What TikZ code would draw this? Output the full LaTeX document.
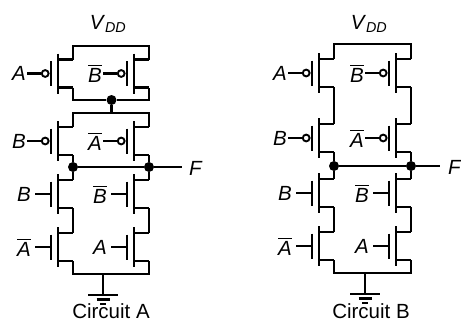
\documentclass[tikz,border=0pt]{standalone}
\usepackage{fontspec}
\setmainfont{Liberation Sans}
\usepackage{amsmath}
\usetikzlibrary{calc}

% transistor symbols: name, x of source/drain line, y of centre, gate label
\newcommand{\pfet}[4]{%
	\draw[wire] ({#2-15},{#3-20}) -- ({#2-15},{#3+20});
	\draw[wire] ({#2-22},{#3-12.5}) -- ({#2-22},{#3+12.5});
	\draw[wire] ({#2-15},{#3-14}) -- ({#2},{#3-14}) coordinate (#1-s);
	\draw[wire] ({#2-15},{#3+14}) -- ({#2},{#3+14}) coordinate (#1-d);
	\coordinate (#1-in) at ({#2-46},#3);
	\node[bubble] (#1-g) at ({#2-27.8},#3) {};
	\node[gatelabel] (#1-l) at (#1-in) {#4};
	\draw[wire] (#1-in) -- (#1-g);
	\draw[wire] (#1-g) -- ({#2-22},#3);
}
\newcommand{\nfet}[4]{%
	\draw[wire] ({#2-15},{#3-20}) -- ({#2-15},{#3+20});
	\draw[wire] ({#2-22},{#3-12.5}) -- ({#2-22},{#3+12.5});
	\draw[wire] ({#2-15},{#3-14}) -- ({#2},{#3-14}) coordinate (#1-s);
	\draw[wire] ({#2-15},{#3+14}) -- ({#2},{#3+14}) coordinate (#1-d);
	\coordinate (#1-in) at ({#2-38},#3);
	\node[gatelabel] (#1-l) at ({#2-41},#3) {#4};
	\draw[wire] (#1-in) -- ({#2-22},#3);
}

\begin{document}
\begin{tikzpicture}[x=1pt, y=-1pt, font=\fontsize{20.5}{24}\selectfont]
	\tikzstyle {wire} = [line width=2.8pt]
	\tikzstyle {bubble} = [shape=circle, draw=black, line width=1.9pt, fill=white, minimum size=6.8pt, inner sep=0pt]
	\tikzstyle {dot} = [shape=circle, fill=black, minimum size=10pt, inner sep=0pt]
	\tikzstyle {gatelabel} = [anchor=east, inner sep=1pt]
	\useasboundingbox (0,0) rectangle (461,322);

	% Circuit A: pull-up
	\pfet{a-p1}{73}{73.5}{\textit{A}}
	\pfet{a-p2}{149}{73.5}{$\overline{\textit{B}}$}
	\pfet{a-p3}{73}{141}{\textit{B}}
	\pfet{a-p4}{149}{141}{$\overline{\textit{A}}$}
	% Circuit A: pull-down
	\nfet{a-n1}{73}{194}{\textit{B}}
	\nfet{a-n2}{73}{247}{$\overline{\textit{A}}$}
	\nfet{a-n3}{149}{194}{$\overline{\textit{B}}$}
	\nfet{a-n4}{149}{247}{\textit{A}}

	\node[] (a-vdd) at (108,24) {\textit{V}\textsubscript{\textit{DD}}};
	\coordinate (a-top-l) at (73,46);
	\coordinate (a-top-r) at (149,46);
	\node[dot] (a-mid) at (111.5,100) {};
	\coordinate (a-mid-b) at (111.5,113);
	\node[dot] (a-f1) at (73,167) {};
	\node[dot] (a-f2) at (149,167) {};
	\coordinate (a-out) at (182,167);
	\node[anchor=west, inner sep=1pt] (a-F) at (188,168) {\textit{F}};
	\coordinate (a-gnd) at (103,274);
	\coordinate (a-earth) at (103,295);
	\node[] (a-name) at (111,311) {Circuit A};

	\draw[wire] (a-p1-s) -- (a-top-l) -- (a-top-r) -- (a-p2-s);
	\draw[wire] (a-p1-d) |- (a-mid) -| (a-p2-d);
	\draw[wire] (a-mid) -- (a-mid-b);
	\draw[wire] (a-p3-s) |- (a-mid-b) -| (a-p4-s);
	\draw[wire] (a-p3-d) -- (a-f1) -- (a-n1-s);
	\draw[wire] (a-p4-d) -- (a-f2) -- (a-n3-s);
	\draw[wire] (a-f1) -- (a-f2) -- (a-out);
	\draw[wire] (a-n1-d) -- (a-n2-s);
	\draw[wire] (a-n3-d) -- (a-n4-s);
	\draw[wire] (a-n2-d) |- (a-gnd) -| (a-n4-d);
	\draw[wire] (a-gnd) -- (a-earth);
	\draw[wire] ([xshift=-15pt]a-earth) -- ([xshift=15pt]a-earth);
	\draw[wire] ([xshift=-6.5pt, yshift=-4.5pt]a-earth) -- ([xshift=6.5pt, yshift=-4.5pt]a-earth);
	\draw[line width=2pt] ([xshift=-3pt, yshift=-8.5pt]a-earth) -- ([xshift=3pt, yshift=-8.5pt]a-earth);

	% Circuit B: pull-up
	\pfet{b-p1}{334}{73}{\textit{A}}
	\pfet{b-p2}{334}{138}{\textit{B}}
	\pfet{b-p3}{411}{73}{$\overline{\textit{B}}$}
	\pfet{b-p4}{411}{138}{$\overline{\textit{A}}$}
	% Circuit B: pull-down
	\nfet{b-n1}{334}{193}{\textit{B}}
	\nfet{b-n2}{334}{246}{$\overline{\textit{A}}$}
	\nfet{b-n3}{411}{193}{$\overline{\textit{B}}$}
	\nfet{b-n4}{411}{246}{\textit{A}}

	\node[] (b-vdd) at (369,24) {\textit{V}\textsubscript{\textit{DD}}};
	\coordinate (b-top-l) at (334,44);
	\coordinate (b-top-r) at (411,44);
	\node[dot] (b-f1) at (334,166) {};
	\node[dot] (b-f2) at (411,166) {};
	\coordinate (b-out) at (440,166);
	\node[anchor=west, inner sep=1pt] (b-F) at (447,167) {\textit{F}};
	\coordinate (b-gnd) at (365,273);
	\coordinate (b-earth) at (365,294);
	\node[] (b-name) at (371,311) {Circuit B};

	\draw[wire] (b-p1-s) -- (b-top-l) -- (b-top-r) -- (b-p3-s);
	\draw[wire] (b-p1-d) -- (b-p2-s);
	\draw[wire] (b-p3-d) -- (b-p4-s);
	\draw[wire] (b-p2-d) -- (b-f1) -- (b-n1-s);
	\draw[wire] (b-p4-d) -- (b-f2) -- (b-n3-s);
	\draw[wire] (b-f1) -- (b-f2) -- (b-out);
	\draw[wire] (b-n1-d) -- (b-n2-s);
	\draw[wire] (b-n3-d) -- (b-n4-s);
	\draw[wire] (b-n2-d) |- (b-gnd) -| (b-n4-d);
	\draw[wire] (b-gnd) -- (b-earth);
	\draw[wire] ([xshift=-15pt]b-earth) -- ([xshift=15pt]b-earth);
	\draw[wire] ([xshift=-6.5pt, yshift=-4.5pt]b-earth) -- ([xshift=6.5pt, yshift=-4.5pt]b-earth);
	\draw[line width=2pt] ([xshift=-3pt, yshift=-8.5pt]b-earth) -- ([xshift=3pt, yshift=-8.5pt]b-earth);
\end{tikzpicture}
\end{document}
